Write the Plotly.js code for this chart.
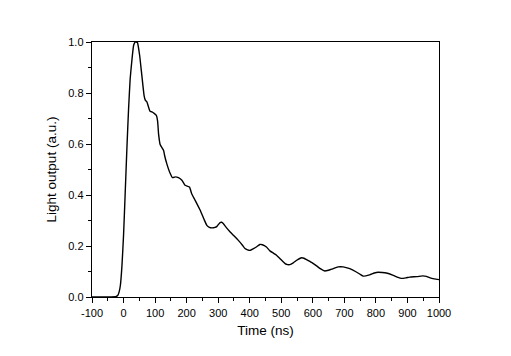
<!DOCTYPE html>
<html>
<head>
<meta charset="utf-8">
<script src="https://cdn.plot.ly/plotly-3.0.1.min.js"></script>
<style>html,body{margin:0;padding:0;background:#fff;}#chart{width:511px;height:356px;}</style>
</head>
<body>
<div id="chart"></div>
<script>
const timeNs = [-100,-60,-40,-25,-18,-14,-10,-5,0,5,11,16,21,27,32,37,40,44,51,58,65,69,74,84,90,98,104,108,111,116,127,130,137,148,155,164,174,185,195,209,216,227,243,255,264,272,280,290,296,306,311,316,326,338,350,364,377,385,393,401,412,422,432,440,453,464,475,485,498,512,520,527,538,549,557,565,572,580,596,612,625,638,650,660,680,696,717,738,750,760,780,795,807,820,833,855,870,881,895,907,930,949,960,970,985,1000];
const lightOutput = [0,0,0,0.001,0.007,0.02,0.046,0.124,0.242,0.4,0.595,0.739,0.856,0.935,0.987,1.0,1.0,0.998,0.948,0.869,0.791,0.772,0.765,0.728,0.726,0.719,0.712,0.69,0.64,0.598,0.575,0.556,0.523,0.484,0.468,0.471,0.468,0.458,0.438,0.431,0.405,0.379,0.34,0.305,0.281,0.273,0.271,0.273,0.277,0.292,0.293,0.288,0.272,0.255,0.24,0.222,0.203,0.19,0.185,0.183,0.19,0.197,0.206,0.205,0.196,0.181,0.172,0.164,0.148,0.131,0.127,0.127,0.134,0.144,0.15,0.154,0.152,0.147,0.136,0.122,0.11,0.102,0.105,0.109,0.118,0.118,0.111,0.098,0.089,0.082,0.087,0.094,0.097,0.096,0.094,0.085,0.077,0.073,0.075,0.078,0.08,0.083,0.081,0.076,0.071,0.068];
const xTickVals = [-100,0,100,200,300,400,500,600,700,800,900,1000];
const xTickText = ['-100','0','100','200','300','400','500','600','700','800','900','1000'];
const yTickVals = [0,0.2,0.4,0.6,0.8,1.0];
const yTickText = ['0.0','0.2','0.4','0.6','0.8','1.0'];
const xTitle = 'Time (ns)';
const yTitle = 'Light output (a.u.)';

const font = 'Arial, "Liberation Sans", sans-serif';
Plotly.newPlot('chart', [{
  x: timeNs, y: lightOutput, type: 'scatter', mode: 'lines',
  line: {color: '#000', width: 1.4, shape: 'spline', smoothing: 0.4},
  cliponaxis: true, hoverinfo: 'skip'
}], {
  width: 511, height: 356,
  margin: {l: 92, r: 72, t: 42, b: 59},
  paper_bgcolor: '#fff', plot_bgcolor: '#fff',
  showlegend: false,
  font: {family: font, color: '#000', size: 11},
  xaxis: {
    range: [-100, 1000], tickmode: 'array', tickvals: xTickVals, ticktext: xTickText,
    showgrid: false, zeroline: false,
    showline: true, linecolor: '#000', linewidth: 1.3, mirror: true,
    ticks: 'outside', ticklen: 5, tickwidth: 1, tickcolor: '#000',
    minor: {dtick: 50, tick0: 0, ticks: 'outside', ticklen: 3, tickwidth: 1, tickcolor: '#000', showgrid: false},
    tickfont: {size: 11, family: font},
    title: {text: xTitle, font: {size: 13.5, family: font}, standoff: 8}
  },
  yaxis: {
    range: [0, 1], tickmode: 'array', tickvals: yTickVals, ticktext: yTickText,
    showgrid: false, zeroline: false,
    showline: true, linecolor: '#000', linewidth: 1.3, mirror: true,
    ticks: 'outside', ticklen: 5, tickwidth: 1, tickcolor: '#000',
    minor: {dtick: 0.1, tick0: 0, ticks: 'outside', ticklen: 3, tickwidth: 1, tickcolor: '#000', showgrid: false},
    tickfont: {size: 11, family: font},
    title: {text: yTitle, font: {size: 13.5, family: font}, standoff: 8}
  }
}, {staticPlot: true, displayModeBar: false});
</script>
</body>
</html>
